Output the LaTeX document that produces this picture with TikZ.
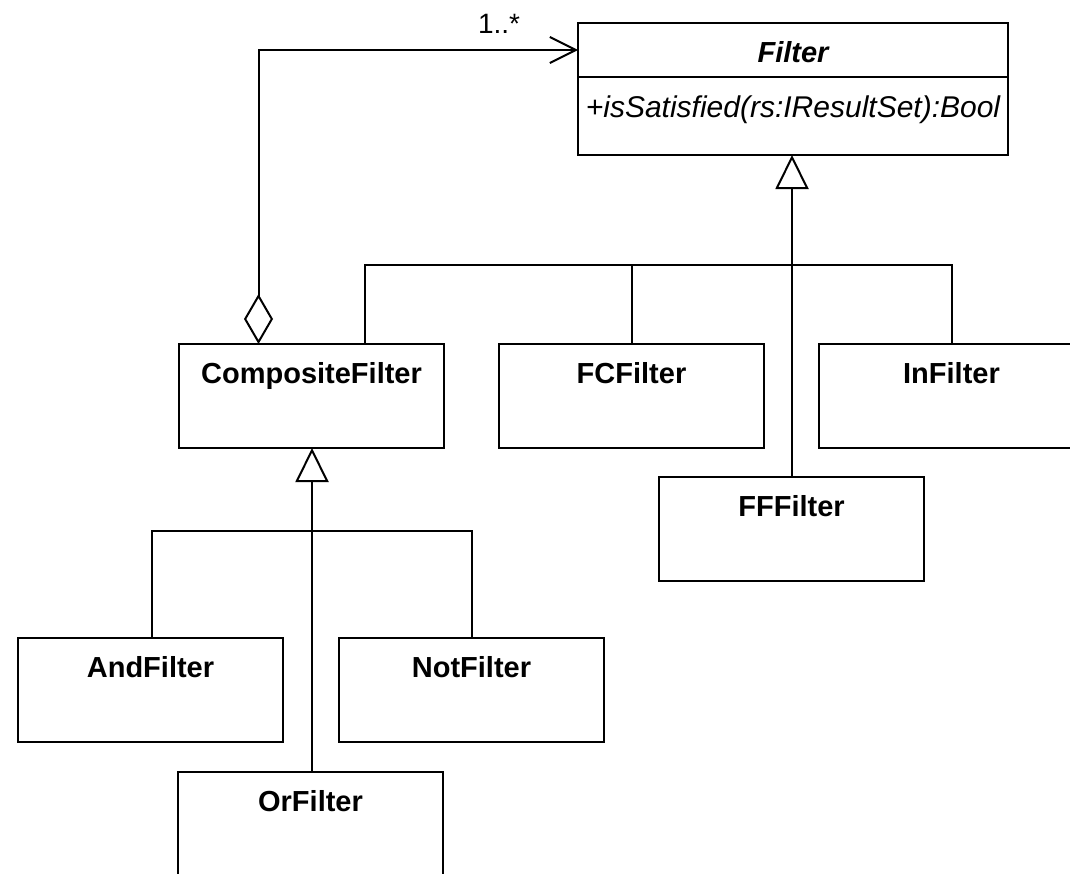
\documentclass[tikz,border=0pt]{standalone}
\usepackage{fontspec}
\setmainfont{Liberation Sans}
\usetikzlibrary{arrows.meta}

\begin{document}
\begin{tikzpicture}[x=1pt, y=-1pt,
  every node/.style={inner sep=0pt, outer sep=0pt},
  box/.style={draw, line width=2pt, fill=white, minimum width=265pt,
              minimum height=104pt, anchor=north west},
  title/.style={font=\fontsize{29}{29}\selectfont\bfseries, anchor=base},
  conn/.style={line width=2pt},
  gen/.style={conn, -{Triangle[open, length=34pt, width=33pt]}},
  agg/.style={conn, {Diamond[open, length=50pt, width=29pt]}-{Straight Barb[length=26pt, width=26pt]}}
]
\useasboundingbox (0,0) rectangle (1070,873);
\clip (0,0) rectangle (1070,873);

% abstract base class
\node[box, minimum width=430pt, minimum height=132pt] (filter) at (578,23) {};
\draw[line width=2pt] ([yshift=-54pt]filter.north west) -- ([yshift=-54pt]filter.north east);
\node[title, font=\fontsize{29}{29}\selectfont\bfseries\itshape]
  (filtername) at ([yshift=-39pt]filter.north) {Filter};
\node[anchor=base, font=\fontsize{30}{30}\selectfont\itshape]
  (filterop) at ([yshift=-94pt]filter.north) {+isSatisfied(rs:IResultSet):Bool};

% concrete filters
\node[box] (comp) at (179,344) {};
\node[box] (fc)   at (499,344) {};
\node[box] (in)   at (819,344) {};
\node[box] (ff)   at (659,477) {};
\node[box] (and)  at (18,638)  {};
\node[box] (not)  at (339,638) {};
\node[box] (or)   at (178,772) {};

\node[title] (compname) at ([yshift=-39pt]comp.north) {CompositeFilter};
\node[title] (fcname)   at ([yshift=-39pt]fc.north)   {FCFilter};
\node[title] (inname)   at ([yshift=-39pt]in.north)   {InFilter};
\node[title] (ffname)   at ([yshift=-39pt]ff.north)   {FFFilter};
\node[title] (andname)  at ([yshift=-39pt]and.north)  {AndFilter};
\node[title] (notname)  at ([yshift=-39pt]not.north)  {NotFilter};
\node[title] (orname)   at ([yshift=-39pt]or.north)   {OrFilter};

% aggregation: CompositeFilter holds 1..* filters
\coordinate (aggstart) at ([xshift=79.5pt]comp.north west);
\coordinate (aggend)   at ([yshift=-27pt]filter.north west);
\draw[agg] (aggstart) |- (aggend);
\node[anchor=base west, font=\fontsize{28}{28}\selectfont] (mult) at (478,33) {1..*};

% generalisation tree under Filter
\coordinate (fftop) at ([xshift=133pt]ff.north west);
\draw[gen] (fftop) -- (fftop |- filter.south);
\coordinate (bus1) at (0,265);
\coordinate (compjoin) at ([xshift=186pt]comp.north west);
\draw[conn] (compjoin) -- (compjoin |- bus1) -| (in.north);
\draw[conn] (fc.north) -- (fc.north |- bus1);

% generalisation tree under CompositeFilter
\coordinate (ortop) at ([xshift=134pt]or.north west);
\draw[gen] (ortop) -- (ortop |- comp.south);
\coordinate (bus2) at (0,531);
\coordinate (andjoin) at ([xshift=134pt]and.north west);
\draw[conn] (andjoin) -- (andjoin |- bus2) -| (not.north);
\end{tikzpicture}
\end{document}
